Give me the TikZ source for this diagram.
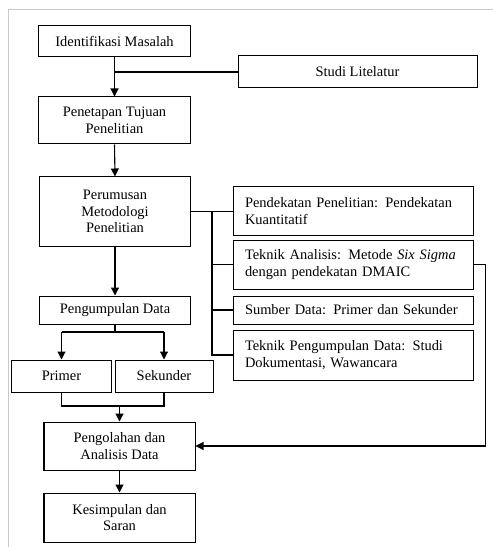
\documentclass[tikz,border=0pt]{standalone}
\usepackage{fontspec}
\setmainfont{Liberation Serif}
\usetikzlibrary{arrows.meta}
\definecolor{frame}{RGB}{195,200,212}
\tikzset{
  box/.style={draw, line width=1bp, align=center, inner sep=0pt, font=\fontsize{14.5}{16.5}\selectfont},
  lbox/.style={box, align=left, text width=216bp, inner xsep=12bp},
  conn/.style={line width=1.1bp},
  arr/.style={conn, -{Triangle[length=8bp,width=8bp]}}
}
\begin{document}
\begin{tikzpicture}[x=1bp,y=-1bp]
\useasboundingbox (0,0) rectangle (493,547);
\draw[frame, line width=1bp] (8,547) -- (8,10) -- (493,10);

\node[box, minimum width=151bp, minimum height=31bp] (id) at (114.5,41.5) {Identifikasi Masalah};
\node[box, minimum width=239bp, minimum height=32bp] (studi) at (357.5,72) {Studi Litelatur};
\node[box, minimum width=151bp, minimum height=47bp] (tuj) at (114.5,120.5) {Penetapan Tujuan\\Penelitian};
\node[box, minimum width=150bp, minimum height=69bp] (rum) at (115,211.5) {Perumusan\\Metodologi\\Penelitian};
\node[lbox, minimum width=240bp, minimum height=48bp] (pend) at (353,211) {Pendekatan Penelitian: Pendekatan\\Kuantitatif};
\node[lbox, minimum width=240bp, minimum height=49bp] (anl) at (353,264.5) {Teknik Analisis: Metode \textit{Six Sigma}\\dengan pendekatan DMAIC};
\node[lbox, minimum width=240bp, minimum height=28bp] (sum) at (353,310) {Sumber Data: Primer dan Sekunder};
\node[lbox, minimum width=240bp, minimum height=50bp] (tpd) at (353,355) {Teknik Pengumpulan Data: Studi\\Dokumentasi, Wawancara};
\node[box, minimum width=150bp, minimum height=28bp] (kum) at (115,310) {Pengumpulan Data};
\node[box, minimum width=99bp, minimum height=32bp] (pri) at (61.5,376) {Primer};
\node[box, minimum width=98bp, minimum height=32bp] (sek) at (164,376) {Sekunder};
\node[box, minimum width=151bp, minimum height=48bp] (olah) at (119.5,446) {Pengolahan dan\\Analisis Data};
\node[box, minimum width=151bp, minimum height=49bp] (kes) at (119.5,517.5) {Kesimpulan dan\\Saran};

\coordinate (j) at (212,211.5);
\coordinate (split) at (115,332);
\coordinate (merge) at (119.5,406);

\draw[arr] (id.south) -- (tuj.north);
\draw[conn] (studi.west) -- (studi.west -| id.south);
\draw[arr] (tuj.south) -- (rum.north);
\draw[conn] (rum.east) -- (rum.east -| pend.west);
\draw[conn] (j) -- (j |- tpd.west) -- (tpd.west);
\draw[conn] (j |- anl.west) -- (anl.west);
\draw[conn] (j |- sum.west) -- (sum.west);
\draw[arr] (rum.south) -- (kum.north);
\draw[conn] (kum.south) -- (split);
\draw[conn] (pri.north |- split) -- (sek.north |- split);
\draw[arr] (pri.north |- split) -- (pri.north);
\draw[arr] (sek.north |- split) -- (sek.north);
\draw[conn] (pri.south) -- (pri.south |- merge) -- (sek.south |- merge) -- (sek.south);
\draw[arr] (merge) -- (olah.north);
\draw[arr] (anl.east) -- ++(12,0) |- (olah.east);
\draw[arr] (olah.south) -- (kes.north);
\end{tikzpicture}
\end{document}
